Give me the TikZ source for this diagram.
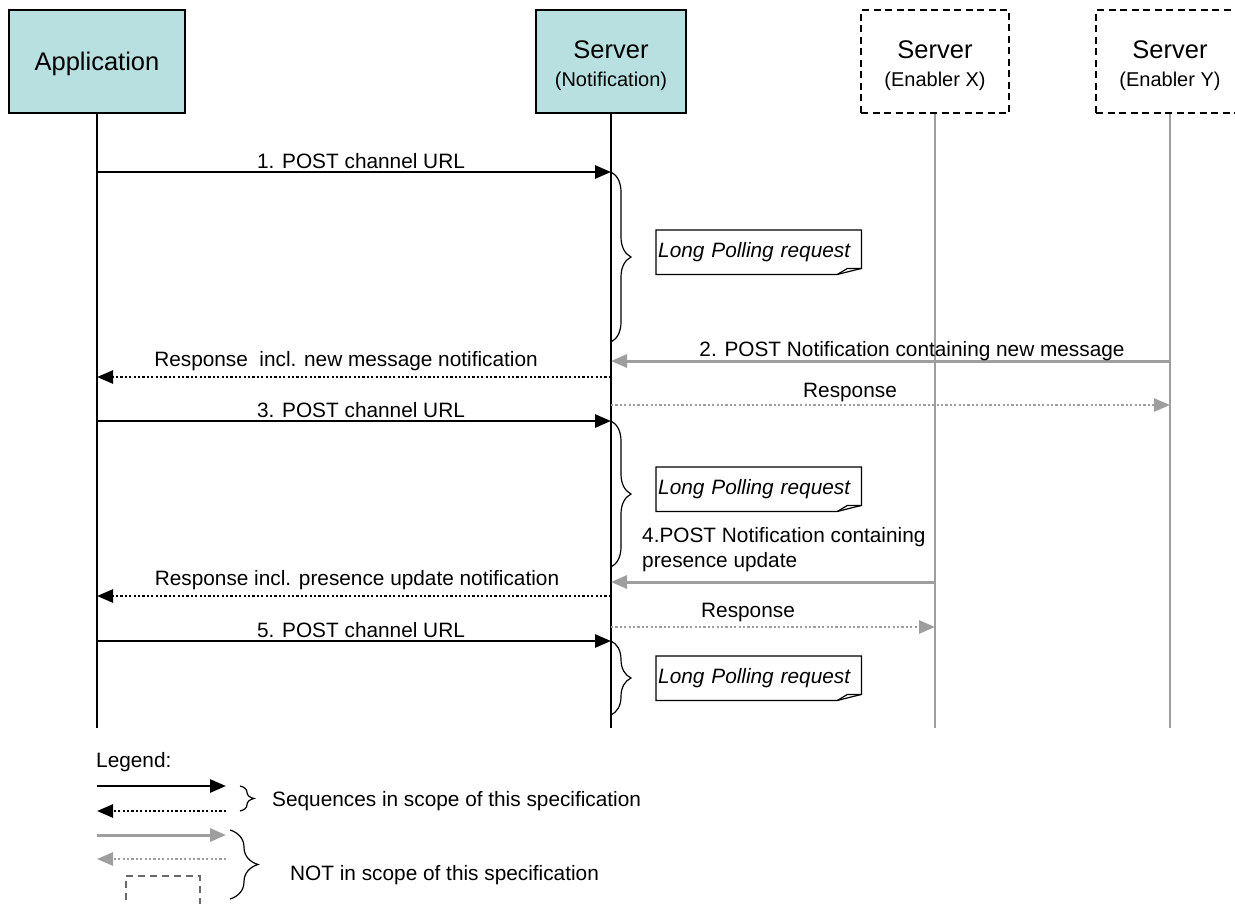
\documentclass[tikz,border=0pt]{standalone}
\usepackage{fontspec}
\setmainfont{Liberation Sans}
\usetikzlibrary{arrows.meta,decorations.pathreplacing}
\definecolor{boxfill}{RGB}{185,224,224}
\definecolor{gline}{RGB}{158,158,158}
\definecolor{gbox}{RGB}{105,105,105}
\begin{document}
\begin{tikzpicture}[x=1pt,y=-1pt,
  every node/.style={inner sep=0pt},
  actor/.style={draw=black,line width=1.8pt,fill=boxfill,minimum width=#1,minimum height=103pt},
  ext/.style={draw=black,line width=2pt,dash pattern=on 7pt off 4.5pt,minimum width=148pt,minimum height=103pt},
  life/.style={line width=2.2pt},
  glife/.style={line width=2.2pt,draw=gline},
  msg/.style={line width=2.8pt,-{Triangle[length=16pt,width=13pt]}},
  rsp/.style={line width=2.6pt,dash pattern=on 2.2pt off 2.2pt,-{Triangle[length=16pt,width=13pt]}},
  gmsg/.style={line width=3pt,draw=gline,-{Triangle[length=16pt,width=13pt]}},
  grsp/.style={line width=2.6pt,draw=gline,dash pattern=on 2.2pt off 2.2pt,-{Triangle[length=16pt,width=13pt]}},
  lbl/.style={font=\fontsize{20.8}{24}\selectfont,anchor=base},
  lblw/.style={font=\fontsize{20.8}{24}\selectfont,anchor=base west},
  ttl/.style={font=\fontsize{25.5}{30}\selectfont},
  subt/.style={font=\fontsize{20}{24}\selectfont},
  note/.style={font=\fontsize{20.8}{24}\selectfont\itshape,text width=201pt,align=left,minimum height=44pt,inner xsep=2pt,anchor=north west},
  notebox/.style={line width=1.2pt},
  brc/.style={decorate,decoration={brace,amplitude=#1},line width=1.2pt},
  legbox/.style={draw=gbox,line width=2.2pt,dash pattern=on 7pt off 5pt},
]
\clip (0,0) rectangle (1235,903);
\fill[white] (0,0) rectangle (1235,903);

% actors
\node[actor=176pt] (app) at (97,61.5) {};
\node[ttl] (appT) at (97,64) {Application};
\node[actor=150pt] (srv) at (611,61.5) {};
\node[ttl] (srvT) at (611,50) {Server};
\node[subt] (srvS) at (611,81) {(Notification)};
\node[ext] (enx) at (935,61.5) {};
\node[ttl] (enxT) at (935,50) {Server};
\node[subt] (enxS) at (935,81) {(Enabler X)};
\node[ext] (eny) at (1170,61.5) {};
\node[ttl] (enyT) at (1170,50) {Server};
\node[subt] (enyS) at (1170,81) {(Enabler Y)};

% lifelines
\coordinate (appE) at (97,728);
\coordinate (srvE) at (611,728);
\coordinate (enxE) at (935,728);
\coordinate (enyE) at (1170,728);
\draw[life] (app.south) -- (appE);
\draw[life] (srv.south) -- (srvE);
\draw[glife] (enx.south) -- (enxE);
\draw[glife] (eny.south) -- (enyE);

% message coordinates
\coordinate (a1) at (97,172);  \coordinate (s1) at (611,172);
\coordinate (y2) at (1170,361); \coordinate (s2) at (611,361);
\coordinate (sr1) at (611,377); \coordinate (ar1) at (97,377);
\coordinate (sg1) at (611,405); \coordinate (yg1) at (1170,405);
\coordinate (a3) at (97,421);  \coordinate (s3) at (611,421);
\coordinate (x4) at (935,582); \coordinate (s4) at (611,582);
\coordinate (sr2) at (611,596); \coordinate (ar2) at (97,596);
\coordinate (sg2) at (611,627); \coordinate (xg2) at (935,627);
\coordinate (a5) at (97,641);  \coordinate (s5) at (611,641);

\draw[msg] (a1) -- (s1);
\node[lbl] (l1) at (361,168) {1. POST channel URL};
\draw[gmsg] (y2) -- (s2);
\node[lbl] (l2) at (912,356) {2. POST Notification containing new message};
\draw[rsp] (sr1) -- (ar1);
\node[lbl] (lr1) at (346,366) {Response\ \ incl. new message notification};
\draw[grsp] (sg1) -- (yg1);
\node[lbl] (lg1) at (850,397) {Response};
\draw[msg] (a3) -- (s3);
\node[lbl] (l3) at (361,417) {3. POST channel URL};
\draw[gmsg] (x4) -- (s4);
\node[lblw] (l4a) at (642,542) {4.POST Notification containing};
\node[lblw] (l4b) at (642,567) {presence update};
\draw[rsp] (sr2) -- (ar2);
\node[lbl] (lr2) at (357,585) {Response incl. presence update notification};
\draw[grsp] (sg2) -- (xg2);
\node[lbl] (lg2) at (748,617) {Response};
\draw[msg] (a5) -- (s5);
\node[lbl] (l5) at (361,637) {5. POST channel URL};

% braces
\coordinate (b1t) at (611,172); \coordinate (b1b) at (611,342);
\coordinate (b2t) at (611,421); \coordinate (b2b) at (611,567);
\coordinate (b3t) at (611,641); \coordinate (b3b) at (611,715);
\draw[brc=20pt] (b1t) -- (b1b);
\draw[brc=20pt] (b2t) -- (b2b);
\draw[brc=20pt] (b3t) -- (b3b);

% notes
\foreach \n/\yy in {n1/230,n2/467,n3/656}{
  \node[note] (\n) at (656,\yy) {Long Polling request};
  \draw[notebox] (\n.north west) -- (\n.north east) -- ([yshift=6pt]\n.south east)
     -- ([xshift=-24pt]\n.south east) -- (\n.south west) -- cycle;
  \draw[notebox] ([xshift=-24pt]\n.south east) -- ([xshift=-14pt,yshift=6pt]\n.south east)
     -- ([yshift=6pt]\n.south east);
}

% legend
\node[font=\fontsize{20.8}{24}\selectfont,anchor=west] (leg) at (96,762) {Legend:};
\coordinate (la1) at (97,786);  \coordinate (lb1) at (226,786);
\coordinate (la2) at (226,811); \coordinate (lb2) at (97,811);
\coordinate (la3) at (97,835);  \coordinate (lb3) at (226,835);
\coordinate (la4) at (226,859); \coordinate (lb4) at (97,859);
\draw[msg] (la1) -- (lb1);
\draw[rsp] (la2) -- (lb2);
\draw[gmsg] (la3) -- (lb3);
\draw[grsp] (la4) -- (lb4);
\coordinate (lbAt) at (240,786); \coordinate (lbAb) at (240,811);
\coordinate (lbBt) at (230,830); \coordinate (lbBb) at (230,899);
\draw[brc=14pt] (lbAt) -- (lbAb);
\draw[brc=28pt] (lbBt) -- (lbBb);
\node[font=\fontsize{20.8}{24}\selectfont,anchor=west] (legA) at (272,801) {Sequences in scope of this specification};
\node[font=\fontsize{20.8}{24}\selectfont,anchor=west] (legB) at (290,875) {NOT in scope of this specification};
\coordinate (lx1) at (126,912); \coordinate (lx2) at (126,876);
\coordinate (lx3) at (200,876); \coordinate (lx4) at (200,912);
\draw[legbox] (lx1) -- (lx2) -- (lx3) -- (lx4);
\end{tikzpicture}
\end{document}
